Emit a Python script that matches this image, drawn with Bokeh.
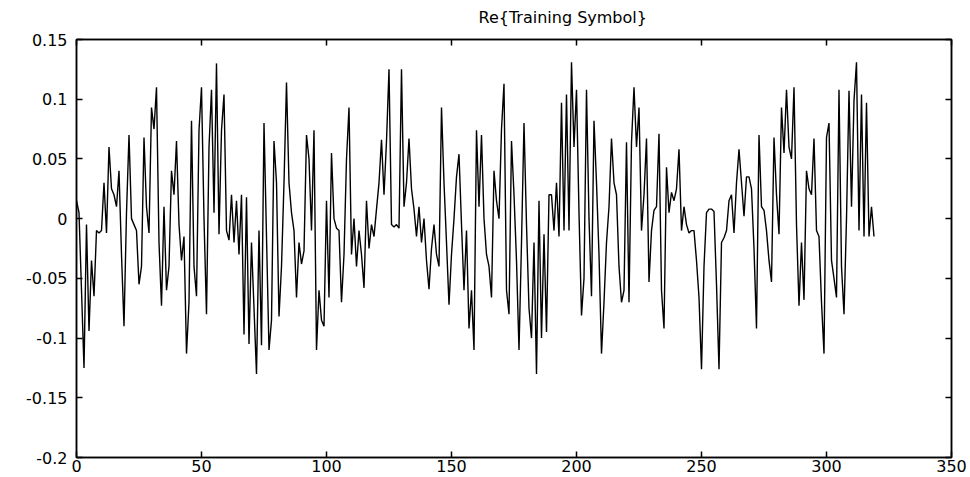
from bokeh.plotting import figure
from bokeh.models import Range1d, FixedTicker, LinearAxis, CustomLabelingPolicy
from bokeh.embed import file_html
from bokeh.resources import INLINE

title_text = "Re{Training Symbol}"

# Re{training symbol}, samples 0..319
re_part1 = [0.015, 0.005, -0.06, -0.125, -0.005, -0.094, -0.035, -0.065, -0.01, -0.012,
            -0.01, 0.03, -0.012, 0.06, 0.025, 0.02, 0.01, 0.04, -0.03, -0.09,
            0.005, 0.07, 0.0, -0.005, -0.01, -0.055, -0.04, 0.068, 0.01, -0.012,
            0.093, 0.075, 0.11, -0.02, -0.073, 0.01, -0.06, -0.04, 0.04, 0.02,
            0.065, -0.005, -0.035, -0.015, -0.113, -0.07, 0.082, -0.04, -0.065, 0.074,
            0.11, 0.0, -0.08, 0.06, 0.108, 0.005, 0.13, -0.013, 0.074, 0.104,
            -0.01, -0.018, 0.02, -0.02]
re_part2 = [0.015, -0.03, 0.02, -0.097, 0.018, -0.105, -0.02, -0.075, -0.13, -0.01,
            -0.106, 0.08, -0.015, -0.11, -0.085, 0.065, 0.03, -0.082, -0.04, 0.03,
            0.114, 0.03, 0.005, -0.01, -0.066, -0.02, -0.038, -0.027, 0.07, 0.05,
            -0.01, 0.074, -0.11, -0.06, -0.085, -0.09, 0.015, -0.066, 0.055, 0.0,
            -0.008, -0.01, -0.07, -0.03, 0.05, 0.093, -0.03, 0.0, -0.04, -0.01,
            -0.03, -0.058, 0.015, -0.025, -0.005, -0.015, 0.008, 0.03, 0.066, 0.02,
            0.065, 0.125, -0.005, -0.007]
re_part3 = [-0.005, -0.008, 0.125, 0.01, 0.03, 0.067, 0.025, 0.008, -0.015, 0.01,
            -0.02, 0.0, -0.035, -0.059, -0.025, -0.005, -0.03, -0.04, 0.093, 0.03,
            -0.02, -0.072, -0.03, 0.0, 0.035, 0.054, -0.005, -0.06, -0.01, -0.092,
            -0.06, -0.11, 0.074, 0.01, 0.07, 0.0, -0.03, -0.04, -0.066, 0.04,
            0.015, 0.0, 0.075, 0.113, -0.06, -0.08, 0.065, 0.02, -0.035, -0.11,
            -0.02, 0.08, -0.005, -0.075, -0.1, -0.02, -0.13, 0.015, -0.1, -0.013,
            -0.095, 0.02, 0.02, -0.01]
re_part4 = [0.03, -0.015, 0.097, -0.01, 0.104, -0.01, 0.131, 0.06, 0.108, 0.005,
            -0.081, -0.05, 0.108, 0.0, -0.065, 0.082, 0.03, -0.03, -0.113, -0.07,
            -0.02, 0.01, 0.067, 0.03, 0.02, -0.04, -0.07, -0.06, 0.064, -0.07,
            0.064, 0.11, 0.06, 0.093, -0.01, 0.02, 0.067, -0.053, -0.01, 0.007,
            0.01, 0.071, -0.06, -0.092, 0.043, 0.005, 0.022, 0.015, 0.025, 0.058,
            -0.01, 0.01, -0.005, -0.012, -0.01, -0.01, -0.035, -0.066, -0.126, -0.04,
            0.005, 0.008, 0.008, 0.006]
re_part5 = [-0.055, -0.126, -0.02, -0.016, -0.01, 0.015, 0.02, -0.012, 0.03, 0.058,
            0.03, 0.002, 0.035, 0.035, 0.025, -0.025, -0.092, 0.07, 0.01, 0.007,
            -0.01, -0.035, -0.053, 0.068, 0.02, -0.013, 0.093, 0.055, 0.108, 0.06,
            0.05, 0.11, -0.005, -0.073, -0.02, -0.068, 0.04, 0.025, 0.02, 0.067,
            -0.01, -0.015, -0.07, -0.113, 0.068, 0.08, -0.035, -0.05, -0.066, 0.108,
            -0.04, -0.08, 0.0, 0.107, 0.01, 0.099, 0.131, -0.01, 0.104, -0.015,
            0.097, -0.015, 0.01, -0.015]

re_values = re_part1 + re_part2 + re_part3 + re_part4 + re_part5
sample_index = list(range(len(re_values)))

x_ticks = [0, 50, 100, 150, 200, 250, 300, 350]
y_ticks = [-0.2, -0.15, -0.1, -0.05, 0, 0.05, 0.1, 0.15]
y_tick_labels = ["-0.2", "-0.15", "-0.1", "-0.05", "0", "0.05", "0.1", "0.15"]

FONT = "DejaVu Sans"

p = figure(width=970, height=477, output_backend="svg", toolbar_location=None,
           x_range=Range1d(0, 350), y_range=Range1d(-0.2, 0.15),
           min_border_left=76, min_border_right=19, min_border_top=39,
           min_border_bottom=20, title=title_text)
p.title.align = "left"
p.title.offset = 402
p.title.standoff = 13
p.title.vertical_align = "top"
p.title.text_font = FONT
p.title.text_font_size = "16px"
p.title.text_font_style = "normal"
p.title.text_color = "black"

p.xgrid.visible = False
p.ygrid.visible = False
p.outline_line_color = "black"
p.outline_line_width = 1.5
p.background_fill_color = "white"
p.border_fill_color = "white"

for ax in p.xaxis:
    ax.ticker = FixedTicker(ticks=x_ticks)
for ax in p.yaxis:
    ax.ticker = FixedTicker(ticks=y_ticks)
    ax.major_label_overrides = {t: s for t, s in zip(y_ticks, y_tick_labels)}

for ax in p.xaxis + p.yaxis:
    ax.major_tick_in = 6
    ax.major_tick_out = 0
    ax.minor_tick_line_color = None
    ax.axis_line_color = "black"
    ax.axis_line_width = 1.5
    ax.major_tick_line_color = "black"
    ax.major_tick_line_width = 1.5
    ax.major_label_text_font = FONT
    ax.major_label_text_font_size = "16px"
    ax.major_label_text_color = "black"
p.yaxis.major_label_standoff = 9
p.xaxis.major_label_standoff = 2

no_labels = CustomLabelingPolicy(code="""
const all = [...indices];
for (const i of all) indices.unset(i);
return indices;
""")

ax_top = LinearAxis(ticker=FixedTicker(ticks=x_ticks), major_label_policy=no_labels,
                    major_label_text_font_size="1px",
                    major_tick_in=6, major_tick_out=0, minor_tick_line_color=None,
                    axis_line_color="black", axis_line_width=1.5,
                    major_tick_line_width=1.5, major_label_standoff=0)
ax_right = LinearAxis(ticker=FixedTicker(ticks=y_ticks), major_label_policy=no_labels,
                      major_label_text_font_size="1px",
                      major_tick_in=6, major_tick_out=0, minor_tick_line_color=None,
                      axis_line_color="black", axis_line_width=1.5,
                      major_tick_line_width=1.5, major_label_standoff=0)
p.add_layout(ax_top, "above")
p.add_layout(ax_right, "right")

p.line(sample_index, re_values, line_color="black", line_width=1.4)

open("out.html", "w").write(file_html(p, INLINE))
